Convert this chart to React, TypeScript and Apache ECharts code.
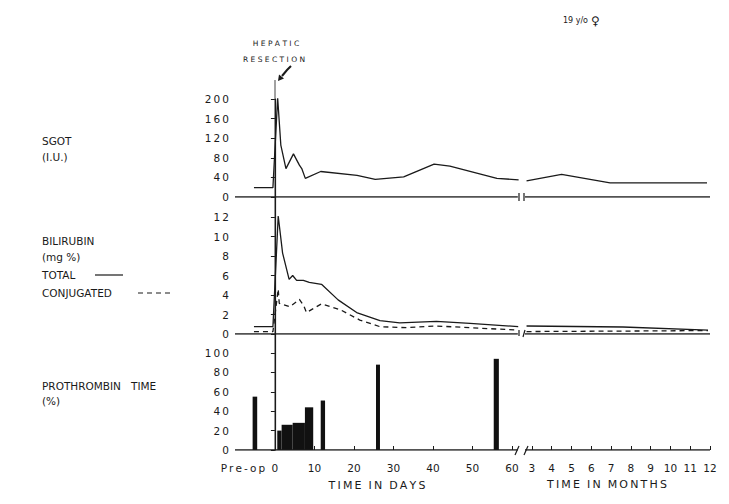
import React, { useEffect, useRef } from 'react';
import * as echarts from 'echarts';

// ---- axis mapping (broken axis: days, then months) ----
const X_MIN = -10.1;
const MONTH3_X = 65.06;
const MONTH_W = 5.01;
const mx = (m: number) => MONTH3_X + (m - 3) * MONTH_W;
const X_MAX = mx(12);
const DAY_BREAK = 61.5;
const MONTH_BREAK = 2.65;

// ---- tick labels ----
const preOpDay = -5.06;
const dayTicks = [0, 10, 20, 30, 40, 50, 60];
const monthTicks = [3, 4, 5, 6, 7, 8, 9, 10, 11, 12];
const sgotTicks = [0, 40, 80, 120, 160, 200];
const biliTicks = [0, 2, 4, 6, 8, 10, 12];
const protTicks = [0, 20, 40, 60, 80, 100];

// ---- SGOT (I.U.) ----
const sgotDays = [-5.3, -0.5, 0.7, 1.5, 2.8, 4.7, 6.2, 6.8, 7.7, 11.6, 20.8, 25.4, 32.6, 40.3, 44.3, 56.2, 61.7];
const sgotDayVals = [19, 19, 202, 106, 58, 88, 65, 58, 38, 52, 44, 36, 41, 67, 63, 38, 35];
const sgotMonths = [2.73, 4.5, 6.95, 11.85];
const sgotMonthVals = [33, 46, 29, 29];

// ---- Bilirubin total (mg %) ----
const totDays = [-5.3, -0.5, 0.84, 1.95, 3.6, 4.5, 5.5, 7.2, 8.7, 11.8, 16, 20.7, 26.6, 31.6, 40.9, 49.4, 61.6];
const totDayVals = [0.75, 0.75, 12.1, 8.3, 5.6, 6.0, 5.5, 5.5, 5.3, 5.1, 3.5, 2.2, 1.37, 1.15, 1.3, 1.1, 0.75];
const totMonths = [2.73, 7.6, 11.9];
const totMonthVals = [0.82, 0.72, 0.4];

// ---- Bilirubin conjugated (mg %) ----
const conjDays = [-5.3, -0.5, 0.84, 1.1, 3.8, 6.2, 7.3, 8.0, 11.8, 16.5, 21.5, 26.6, 33.3, 40.9, 49.4, 61.6];
const conjDayVals = [0.24, 0.24, 4.6, 3.15, 2.8, 3.55, 2.9, 2.2, 3.1, 2.5, 1.43, 0.75, 0.65, 0.82, 0.65, 0.4];
const conjMonths = [2.73, 7.6, 11.9];
const conjMonthVals = [0.25, 0.3, 0.35];

// ---- Prothrombin time (%) : [start day, end day, value] ----
const protStart = [-5.64, 0.6, 1.7, 4.5, 7.6, 11.6, 25.6, 55.4];
const protEnd = [-4.48, 1.7, 4.5, 7.6, 9.7, 12.7, 26.6, 56.7];
const protVals = [55, 20, 26, 28, 44, 51, 88, 94];

const INK = '#1a1a1a';
const FONT = 'DejaVu Sans';

const spaced = (s: string) => s.split('').join('\u2009');

export default function App() {
  const ref = useRef<HTMLDivElement>(null);
  useEffect(() => {
    if (!ref.current) return;
    const chart = echarts.init(ref.current, undefined, { renderer: 'svg' });

    const labelMap = new Map<string, string>();
    labelMap.set(preOpDay.toFixed(3), 'Pre-op');
    dayTicks.forEach((d) => labelMap.set(d.toFixed(3), String(d)));
    monthTicks.forEach((m) => labelMap.set(mx(m).toFixed(3), String(m)));
    const xTickVals = [preOpDay, ...dayTicks, ...monthTicks.map(mx)];

    const grids = [
      { left: 235, right: 19, top: 99, height: 98 },
      { left: 235, right: 19, top: 197, height: 137 },
      { left: 235, right: 19, top: 334, height: 116 },
    ];
    const biliMax = 137 / (117 / 12);
    const protMax = 116 / (97 / 100);

    const yBase = (idx: number, max: number, ticks: number[]) => ({
      type: 'value',
      gridIndex: idx,
      min: 0,
      max,
      splitLine: { show: false },
      axisLine: { show: true, lineStyle: { color: INK, width: 1.2 } },
      axisTick: { show: true, length: 4, customValues: ticks, lineStyle: { color: INK } },
      axisLabel: {
        customValues: ticks,
        color: INK,
        fontFamily: FONT,
        fontSize: 10.5,
        margin: 6,
        formatter: (v: number) => spaced(String(v)),
      },
    });

    const xHidden = (idx: number) => ({
      type: 'value', gridIndex: idx, min: X_MIN, max: X_MAX, show: false,
    });

    const pair = (xs: number[], ys: number[], f = (x: number) => x) => xs.map((x, i) => [f(x), ys[i]]);

    const lineS = (data: number[][], xi: number, dashed = false) => ({
      type: 'line',
      xAxisIndex: xi,
      yAxisIndex: xi,
      data,
      symbol: 'none',
      silent: true,
      lineStyle: { color: INK, width: 1.3, type: dashed ? [5, 4] : 'solid' },
    });

    const baseline = (xi: number) => [
      lineS([[X_MIN, 0], [DAY_BREAK, 0]], xi),
      lineS([[mx(MONTH_BREAK), 0], [X_MAX, 0]], xi),
    ];

    const protData = protStart.map((s, i) => [s, protEnd[i], protVals[i]]);

    const txt = (text: string, x: number, y: number, fontSize = 10.5, align = 'left') => ({
      type: 'text',
      x,
      y,
      style: { text, fontSize, fontFamily: FONT, fill: INK, align, verticalAlign: 'middle' },
    });
    const ln = (x1: number, y1: number, x2: number, y2: number, extra: any = {}) => ({
      type: 'line',
      shape: { x1, y1, x2, y2 },
      style: { stroke: INK, lineWidth: 1.2, ...extra },
    });

    chart.setOption({
      animation: false,
      backgroundColor: '#ffffff',
      grid: grids,
      xAxis: [
        xHidden(0),
        xHidden(1),
        {
          type: 'value',
          gridIndex: 2,
          min: X_MIN,
          max: X_MAX,
          splitLine: { show: false },
          axisLine: { show: false },
          axisTick: { show: true, inside: true, length: 4, customValues: xTickVals, lineStyle: { color: INK } },
          axisLabel: {
            customValues: xTickVals,
            color: INK,
            fontFamily: FONT,
            fontSize: 10.5,
            margin: 12,
            formatter: (v: number) => {
              const t = labelMap.get(v.toFixed(3)) ?? '';
              if (t === 'Pre-op') return '{p|' + spaced(t) + '}';
              return t;
            },
            rich: { p: { fontFamily: FONT, fontSize: 10.5, color: INK, padding: [0, 24, 0, 0] } },
          },
        },
      ],
      yAxis: [
        { ...yBase(0, 200, sgotTicks) },
        { ...yBase(1, biliMax, biliTicks) },
        { ...yBase(2, protMax, protTicks) },
      ],
      series: [
        ...baseline(0),
        ...baseline(1),
        ...baseline(2),
        lineS(pair(sgotDays, sgotDayVals), 0),
        lineS(pair(sgotMonths, sgotMonthVals, mx), 0),
        lineS(pair(totDays, totDayVals), 1),
        lineS(pair(totMonths, totMonthVals, mx), 1),
        lineS(pair(conjDays, conjDayVals), 1, true),
        lineS(pair(conjMonths, conjMonthVals, mx), 1, true),
        {
          type: 'custom',
          xAxisIndex: 2,
          yAxisIndex: 2,
          data: protData,
          encode: { x: [0, 1], y: 2 },
          silent: true,
          renderItem: (params: any, api: any) => {
            const a = api.coord([api.value(0), 0]);
            const b = api.coord([api.value(1), api.value(2)]);
            return {
              type: 'rect',
              shape: { x: a[0], y: b[1], width: b[0] - a[0], height: a[1] - b[1] },
              style: { fill: '#111111' },
            };
          },
        },
      ],
      graphic: [
        // resection marker
        ln(275, 80, 275, 450, { stroke: '#444', lineWidth: 1 }),
        txt('H E P A T I C', 276, 43, 7.5, 'center'),
        txt('R E S E C T I O N', 274, 59, 7.5, 'center'),
        {
          type: 'polyline',
          shape: { points: [[291, 66], [287, 70], [282, 76]] },
          style: { stroke: INK, lineWidth: 2, fill: 'none' },
        },
        {
          type: 'polygon',
          shape: { points: [[278, 81], [284, 78.5], [279, 74.5]] },
          style: { fill: INK },
        },
        // title
        txt('19 y/o', 588, 20, 8, 'right'),
        txt('\u2640', 591, 21, 12, 'left'),
        // left labels
        txt('SGOT', 42, 141),
        txt('(I.U.)', 42, 157),
        txt('BILIRUBIN', 42, 241),
        txt('(mg %)', 42, 257),
        txt('TOTAL', 42, 275),
        ln(95, 275, 123, 275),
        txt('CONJUGATED', 42, 293),
        ln(138, 293, 172, 293, { lineDash: [5, 4] }),
        txt('PROTHROMBIN   TIME', 42, 386),
        txt('(%)', 42, 401),
        // axis titles
        txt(spaced('TIME') + '  ' + spaced('IN') + '  ' + spaced('DAYS'), 377, 485, 11, 'center'),
        txt(spaced('TIME') + '  ' + spaced('IN') + '  ' + spaced('MONTHS'), 607, 484, 11, 'center'),
        // break marks
        ln(519, 193, 519, 201),
        ln(524, 193, 524, 201),
        ln(519, 330, 519, 336),
        ln(525, 330, 523, 337),
        ln(515, 455, 519, 446),
        ln(524, 455, 528, 446),
      ],
    });

    return () => chart.dispose();
  }, []);
  return <div ref={ref} style={{ width: 729, height: 504, position: 'absolute', left: 0, top: 0 }} />;
}
